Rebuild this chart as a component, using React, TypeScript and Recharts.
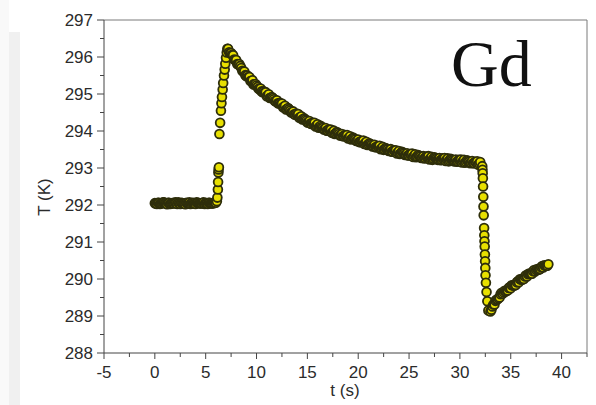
import React from 'react';
import { ScatterChart, Scatter, XAxis, YAxis, ReferenceLine } from 'recharts';

// Gd sample temperature vs time (s, K); the logger reads at 0.1 s,
// stored here as two interleaved runs (even / odd tenths)
const flatTimes = [
  0, 0.2, 0.4, 0.6, 0.8, 1.0, 1.2, 1.4, 1.6, 1.8, 2.0, 2.2, 2.4, 2.6, 2.8, 3.0,
  3.2, 3.4, 3.6, 3.8, 4.0, 4.2, 4.4, 4.6, 4.8, 5.0, 5.2, 5.4, 5.6, 5.8, 6.0,
];
const flatTemps = [
  292.05, 292.03, 292.06, 292.04, 292.07, 292.05, 292.02, 292.06, 292.04, 292.05, 292.07,
  292.03, 292.05, 292.06, 292.04, 292.02, 292.05, 292.07, 292.04, 292.05, 292.03, 292.06,
  292.05, 292.04, 292.07, 292.05, 292.03, 292.06, 292.04, 292.05, 292.06,
];
const flatTimesOdd = [
  0.1, 0.3, 0.5, 0.7, 0.9, 1.1, 1.3, 1.5, 1.7, 1.9, 2.1, 2.3, 2.5, 2.7, 2.9, 3.1, 3.3,
  3.5, 3.7, 3.9, 4.1, 4.3, 4.5, 4.7, 4.9, 5.1, 5.3, 5.5, 5.7, 5.9,
];
const flatTempsOdd = [
  292.04, 292.06, 292.03, 292.05, 292.07, 292.04, 292.06, 292.03, 292.05, 292.04, 292.06,
  292.07, 292.03, 292.05, 292.04, 292.06, 292.05, 292.03, 292.06, 292.04, 292.07, 292.05,
  292.04, 292.06, 292.03, 292.05, 292.06, 292.04, 292.05, 292.07,
];

// field on: fast heating
const jumpTimes = [
  6.1, 6.15, 6.2, 6.22, 6.25, 6.27, 6.3, 6.35, 6.42, 6.5, 6.55, 6.6, 6.67, 6.72, 6.8,
  6.87, 6.93, 7.0, 7.07, 7.13,
];
const jumpTemps = [
  292.1, 292.2, 292.42, 292.62, 292.88, 292.96, 293.02, 293.92, 294.22, 294.55, 294.75,
  294.92, 295.12, 295.3, 295.5, 295.66, 295.82, 295.98, 296.12, 296.22,
];

// relaxation while the field is held
const decayTimes = [
  7.2, 7.4, 7.6, 7.8, 8.0, 8.2, 8.4, 8.6, 8.8, 9.0, 9.2, 9.4, 9.6, 9.8, 10.0, 10.2, 10.4,
  10.6, 10.8, 11.0, 11.2, 11.4, 11.6, 11.8, 12.0, 12.2, 12.4, 12.6, 12.8, 13.0, 13.2, 13.4,
  13.6, 13.8, 14.0, 14.2, 14.4, 14.6, 14.8, 15.0, 15.2, 15.4, 15.6, 15.8, 16.0, 16.2, 16.4,
  16.6, 16.8, 17.0, 17.2, 17.4, 17.6, 17.8, 18.0, 18.2, 18.4, 18.6, 18.8, 19.0, 19.2, 19.4,
  19.6, 19.8, 20.0, 20.2, 20.4, 20.6, 20.8, 21.0, 21.2, 21.4, 21.6, 21.8, 22.0, 22.2, 22.4,
  22.6, 22.8, 23.0, 23.2, 23.4, 23.6, 23.8, 24.0, 24.2, 24.4, 24.6, 24.8, 25.0, 25.2, 25.4,
  25.6, 25.8, 26.0, 26.2, 26.4, 26.6, 26.8, 27.0, 27.2, 27.4, 27.6, 27.8, 28.0, 28.2, 28.4,
  28.6, 28.8, 29.0, 29.2, 29.4, 29.6, 29.8, 30.0, 30.2, 30.4, 30.6, 30.8, 31.0, 31.2, 31.4,
  31.6, 31.8, 32.0,
];
const decayTemps = [
  296.22, 296.1, 296.06, 295.93, 295.92, 295.8, 295.76, 295.63, 295.61, 295.48, 295.46,
  295.35, 295.37, 295.26, 295.23, 295.14, 295.15, 295.05, 295.04, 294.94, 294.99, 294.9,
  294.89, 294.81, 294.83, 294.74, 294.73, 294.64, 294.68, 294.59, 294.59, 294.5, 294.53,
  294.44, 294.44, 294.36, 294.4, 294.32, 294.31, 294.23, 294.27, 294.19, 294.2, 294.12,
  294.18, 294.11, 294.11, 294.04, 294.08, 294.01, 294.02, 293.95, 294.01, 293.94, 293.95,
  293.88, 293.92, 293.86, 293.87, 293.8, 293.86, 293.79, 293.8, 293.73, 293.77, 293.7,
  293.71, 293.65, 293.71, 293.64, 293.65, 293.58, 293.63, 293.56, 293.57, 293.51, 293.57,
  293.51, 293.52, 293.46, 293.51, 293.44, 293.46, 293.39, 293.46, 293.4, 293.42, 293.35,
  293.4, 293.34, 293.36, 293.3, 293.37, 293.31, 293.33, 293.27, 293.32, 293.27, 293.29,
  293.23, 293.3, 293.25, 293.27, 293.22, 293.27, 293.22, 293.24, 293.19, 293.26, 293.21,
  293.23, 293.18, 293.23, 293.18, 293.2, 293.15, 293.22, 293.17, 293.19, 293.13, 293.19,
  293.13, 293.15, 293.09, 293.16,
];
const decayTimesOdd = [
  7.3, 7.5, 7.7, 7.9, 8.1, 8.3, 8.5, 8.7, 8.9, 9.1, 9.3, 9.5, 9.7, 9.9, 10.1, 10.3, 10.5,
  10.7, 10.9, 11.1, 11.3, 11.5, 11.7, 11.9, 12.1, 12.3, 12.5, 12.7, 12.9, 13.1, 13.3, 13.5,
  13.7, 13.9, 14.1, 14.3, 14.5, 14.7, 14.9, 15.1, 15.3, 15.5, 15.7, 15.9, 16.1, 16.3, 16.5,
  16.7, 16.9, 17.1, 17.3, 17.5, 17.7, 17.9, 18.1, 18.3, 18.5, 18.7, 18.9, 19.1, 19.3, 19.5,
  19.7, 19.9, 20.1, 20.3, 20.5, 20.7, 20.9, 21.1, 21.3, 21.5, 21.7, 21.9, 22.1, 22.3, 22.5,
  22.7, 22.9, 23.1, 23.3, 23.5, 23.7, 23.9, 24.1, 24.3, 24.5, 24.7, 24.9, 25.1, 25.3, 25.5,
  25.7, 25.9, 26.1, 26.3, 26.5, 26.7, 26.9, 27.1, 27.3, 27.5, 27.7, 27.9, 28.1, 28.3, 28.5,
  28.7, 28.9, 29.1, 29.3, 29.5, 29.7, 29.9, 30.1, 30.3, 30.5, 30.7, 30.9, 31.1, 31.3, 31.5,
  31.7, 31.9,
];
const decayTempsOdd = [
  296.13, 296.11, 296.05, 295.92, 295.81, 295.81, 295.7, 295.6, 295.51, 295.5, 295.46,
  295.35, 295.26, 295.27, 295.19, 295.13, 295.07, 295.07, 295.05, 294.96, 294.89, 294.92,
  294.86, 294.8, 294.75, 294.76, 294.74, 294.65, 294.58, 294.62, 294.55, 294.5, 294.45,
  294.47, 294.46, 294.37, 294.31, 294.34, 294.28, 294.23, 294.2, 294.22, 294.22, 294.14,
  294.09, 294.14, 294.08, 294.04, 294.01, 294.04, 294.04, 293.97, 293.92, 293.97, 293.92,
  293.88, 293.86, 293.89, 293.89, 293.82, 293.77, 293.82, 293.77, 293.73, 293.7, 293.73,
  293.74, 293.67, 293.62, 293.67, 293.62, 293.59, 293.56, 293.59, 293.6, 293.53, 293.49,
  293.54, 293.5, 293.47, 293.44, 293.48, 293.48, 293.42, 293.38, 293.44, 293.39, 293.36,
  293.34, 293.38, 293.39, 293.33, 293.29, 293.35, 293.31, 293.28, 293.26, 293.31, 293.32,
  293.26, 293.22, 293.29, 293.25, 293.23, 293.21, 293.26, 293.27, 293.22, 293.18, 293.25,
  293.21, 293.19, 293.17, 293.22, 293.23, 293.18, 293.14, 293.21, 293.17, 293.14, 293.13,
  293.17, 293.18, 293.12,
];

// field off: fast cooling
const dropTimes = [
  32.2, 32.22, 32.24, 32.26, 32.28, 32.3, 32.32, 32.34, 32.38, 32.4, 32.42, 32.44, 32.46,
  32.48, 32.5, 32.52, 32.56, 32.62, 32.7, 32.8,
];
const dropTemps = [
  293.05, 292.95, 292.86, 292.72, 292.5, 292.22, 291.96, 291.72, 291.38, 291.18, 291.02,
  290.88, 290.66, 290.48, 290.3, 290.1, 289.9, 289.65, 289.4, 289.15,
];

// recovery toward ambient
const riseTimes = [
  33.0, 33.2, 33.4, 33.6, 33.8, 34.0, 34.2, 34.4, 34.6, 34.8, 35.0, 35.2, 35.4, 35.6, 35.8,
  36.0, 36.2, 36.4, 36.6, 36.8, 37.0, 37.2, 37.4, 37.6, 37.8, 38.0, 38.2, 38.4, 38.6, 38.7,
];
const riseTemps = [
  289.12, 289.26, 289.31, 289.44, 289.48, 289.59, 289.6, 289.68, 289.68, 289.76, 289.75,
  289.83, 289.83, 289.91, 289.91, 289.99, 289.99, 290.07, 290.07, 290.15, 290.14, 290.21,
  290.2, 290.27, 290.26, 290.32, 290.31, 290.36, 290.36, 290.4,
];
const riseTimesOdd = [
  33.1, 33.3, 33.5, 33.7, 33.9, 34.1, 34.3, 34.5, 34.7, 34.9, 35.1, 35.3, 35.5, 35.7,
  35.9, 36.1, 36.3, 36.5, 36.7, 36.9, 37.1, 37.3, 37.5, 37.7, 37.9, 38.1, 38.3, 38.5,
];
const riseTempsOdd = [
  289.17, 289.31, 289.41, 289.45, 289.5, 289.63, 289.64, 289.66, 289.69, 289.78, 289.83,
  289.82, 289.84, 289.94, 289.99, 289.98, 290.0, 290.1, 290.13, 290.14, 290.14, 290.24,
  290.24, 290.25, 290.27, 290.35, 290.37, 290.36,
];

const xTicks = [
  -5, -2.5, 0, 2.5, 5, 7.5, 10, 12.5, 15, 17.5, 20, 22.5, 25, 27.5, 30, 32.5, 35, 37.5, 40, 42.5,
];
const yTicks = [
  288, 288.5, 289, 289.5, 290, 290.5, 291, 291.5, 292, 292.5, 293, 293.5, 294, 294.5, 295,
  295.5, 296, 296.5, 297,
];

const segments: [number[], number[]][] = [
  [flatTimes, flatTemps],
  [flatTimesOdd, flatTempsOdd],
  [jumpTimes, jumpTemps],
  [decayTimes, decayTemps],
  [decayTimesOdd, decayTempsOdd],
  [dropTimes, dropTemps],
  [riseTimes, riseTemps],
  [riseTimesOdd, riseTempsOdd],
];
// merge runs back into time order so later readings paint on top
const points = segments
  .flatMap(([ts, ks]) => ts.map((t, i) => ({ t, k: ks[i] })))
  .sort((a, b) => a.t - b.t);

const FONT = '"Liberation Sans", Arial, sans-serif';
const AXIS = '#444';
const TEXT = '#2b2b2b';

// tickSize/tickMargin are 0, so x/y here sit exactly on the axis line
const XTick = (props: any) => {
  const { x, y, payload } = props;
  const major = payload.value % 5 === 0;
  return (
    <g>
      <line x1={x} x2={x} y1={y} y2={y + (major ? 6 : 4)} stroke={AXIS} />
      {major && (
        <text x={x} y={y + 25} textAnchor="middle" fontSize={17} fontFamily={FONT} fill={TEXT}>
          {payload.value}
        </text>
      )}
    </g>
  );
};

const YTick = (props: any) => {
  const { x, y, payload } = props;
  const major = Number.isInteger(payload.value);
  return (
    <g>
      <line x1={x} x2={x - (major ? 7 : 4)} y1={y} y2={y} stroke={AXIS} />
      {major && (
        <text x={x - 11} y={y} dy="0.36em" textAnchor="end" fontSize={17} fontFamily={FONT} fill={TEXT}>
          {payload.value}
        </text>
      )}
    </g>
  );
};

const Dot = (props: any) => (
  <circle cx={props.cx} cy={props.cy} r={4.4} fill="#e8e000" stroke="#2e2e0b" strokeWidth={1.8} />
);

export default function App() {
  return (
    <div style={{ position: 'absolute', left: 0, top: 0, width: 596, height: 405, background: '#fff' }}>
      <ScatterChart width={596} height={405} margin={{ top: 20, right: 9, bottom: 0, left: 0 }}>
        <XAxis
          type="number"
          dataKey="t"
          domain={[-5, 42.5]}
          ticks={xTicks}
          interval={0}
          height={52}
          tickSize={0}
          tickMargin={0}
          tickLine={false}
          tick={<XTick />}
          axisLine={{ stroke: AXIS }}
        />
        <YAxis
          type="number"
          dataKey="k"
          domain={[288, 297]}
          ticks={yTicks}
          interval={0}
          width={104}
          tickSize={0}
          tickMargin={0}
          tickLine={false}
          tick={<YTick />}
          axisLine={{ stroke: AXIS }}
        />
        <ReferenceLine y={297} stroke="#7a7a7a" />
        <ReferenceLine x={42.5} stroke="#7a7a7a" />
        <Scatter data={points} shape={<Dot />} isAnimationActive={false} />
      </ScatterChart>
      <svg width={596} height={405} style={{ position: 'absolute', left: 0, top: 0, pointerEvents: 'none' }}>
        <rect x={0} y={0} width={9} height={405} fill="#f9f9f9" />
        <rect x={9} y={32} width={11} height={373} fill="#f0f0f0" />
        <text
          x={50}
          y={197}
          transform="rotate(-90 50 197)"
          textAnchor="middle"
          fontSize={17}
          fontFamily={FONT}
          fill={TEXT}
        >
          T (K)
        </text>
        <text x={345} y={396} textAnchor="middle" fontSize={17} fontFamily={FONT} fill={TEXT}>
          t (s)
        </text>
        <text x={451} y={86} fontSize={66} fontFamily='"Liberation Serif", "Times New Roman", serif' fill="#111">
          Gd
        </text>
      </svg>
    </div>
  );
}
